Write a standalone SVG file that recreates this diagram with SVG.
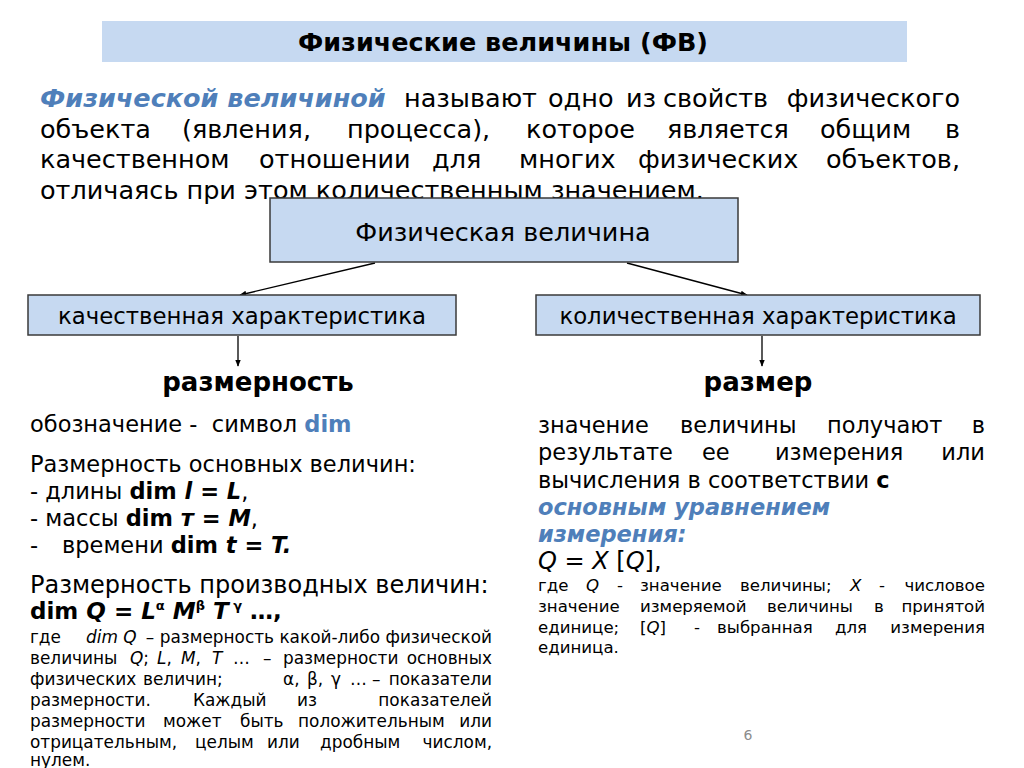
<svg xmlns="http://www.w3.org/2000/svg" width="1024" height="768" viewBox="0 0 1024 768">
<defs>
<style>
text{font-family:"DejaVu Sans","Noto Sans",sans-serif;fill:#000}
.t{font-size:25.5px;font-weight:bold}
.p{font-size:25.5px}
.lb{font-size:25.5px}
.sb{font-size:22.8px}
.hd{font-size:26px;font-weight:bold}
.m{font-size:22.5px}
.s{font-size:16.9px}
.rs{font-size:16.6px}
.b{font-weight:bold}
.i{font-style:italic}
.bl{fill:#4f7fba;font-weight:bold}
.box{fill:#c6d9f1;stroke:#3a3a3a;stroke-width:1.5}
.ln{stroke:#000;stroke-width:1.3;fill:none;marker-end:url(#ah)}
</style>
<marker id="ah" viewBox="0 0 10 10" refX="9" refY="5" markerWidth="7" markerHeight="7" markerUnits="userSpaceOnUse" orient="auto">
<path d="M0,1 L10,5 L0,9 z" fill="#000"/>
</marker>
</defs>
<rect width="1024" height="768" fill="#fff"/>

<g id="title">
<rect x="102" y="21" width="805" height="41" fill="#c6d9f1"/>
<text class="t" x="503" y="51" text-anchor="middle">Физические величины (ФВ)</text>
</g>

<g id="definition">
<text class="p" y="107"><tspan x="40" class="bl i">Физической величиной</tspan><tspan x="404">называют</tspan><tspan x="548">одно</tspan><tspan x="626">из</tspan><tspan x="663">свойств</tspan></text>
<text class="p" x="960" y="107" text-anchor="end">физического</text>
<text class="p" y="138"><tspan x="40">объекта</tspan><tspan x="182">(явления,</tspan><tspan x="347">процесса),</tspan><tspan x="526">которое</tspan><tspan x="667">является</tspan><tspan x="820">общим</tspan></text>
<text class="p" x="960" y="138" text-anchor="end">в</text>
<text class="p" y="168"><tspan x="40">качественном</tspan><tspan x="259">отношении</tspan><tspan x="432">для</tspan><tspan x="519">многих</tspan><tspan x="638">физических</tspan></text>
<text class="p" x="960" y="168" text-anchor="end">объектов,</text>
<text class="p" x="40" y="199">отличаясь при этом количественным значением.</text>
</g>

<g id="connectors">
<line class="ln" x1="375" y1="263" x2="240" y2="295"/>
<line class="ln" x1="627" y1="263" x2="747" y2="295"/>
<line class="ln" x1="238" y1="336" x2="238" y2="366"/>
<line class="ln" x1="762" y1="336" x2="762" y2="366"/>
</g>

<g id="node-fv">
<rect class="box" x="270" y="198" width="468" height="64"/>
<text class="lb" x="503" y="241" text-anchor="middle">Физическая величина</text>
</g>

<g id="node-qual">
<rect class="box" x="28" y="295" width="428" height="40"/>
<text class="sb" x="242" y="324" text-anchor="middle">качественная характеристика</text>
</g>

<g id="node-quant">
<rect class="box" x="536" y="295" width="444" height="40"/>
<text class="sb" x="758" y="324" text-anchor="middle">количественная характеристика</text>
</g>

<g id="node-razmernost">
<text class="hd" x="258" y="391" text-anchor="middle">размерность</text>
</g>

<g id="node-razmer">
<text class="hd" x="758" y="391" text-anchor="middle">размер</text>
</g>

<g id="left-text">
<text class="m" x="30" y="432" xml:space="preserve">обозначение -  символ <tspan class="bl">dim</tspan></text>
<text class="m" x="30" y="472">Размерность основных величин:</text>
<text class="m" x="30" y="499" font-size="22">- длины <tspan class="b">dim <tspan class="i">l</tspan> = <tspan class="i">L</tspan></tspan>,</text>
<text class="m" x="30" y="526" font-size="22">- массы <tspan class="b">dim <tspan class="i">т</tspan> = <tspan class="i">M</tspan></tspan>,</text>
<text class="m" x="30" y="553">-</text>
<text class="m" x="62" y="553" font-size="22">времени <tspan class="b">dim <tspan class="i">t</tspan> = <tspan class="i">T.</tspan></tspan></text>
<text x="30" y="593" font-size="24">Размерность производных величин:</text>
<text class="b" x="30" y="619" font-size="23">dim <tspan class="i">Q</tspan> = <tspan class="i">L</tspan><tspan font-size="13" dy="-9">α</tspan><tspan class="i" dy="9"> M</tspan><tspan font-size="13" dy="-9">β</tspan><tspan class="i" dy="9"> T</tspan><tspan font-size="13" dy="-9"> γ</tspan><tspan dy="9"> …,</tspan></text>

<text class="s" x="30" y="643">где</text>
<text class="s i" x="86" y="643">dim Q</text>
<text class="s" x="492" y="643" text-anchor="end">– размерность какой-либо физической</text>

<text class="s" y="664"><tspan x="30">величины</tspan><tspan x="130" class="i">Q</tspan><tspan>;</tspan><tspan x="157" class="i">L</tspan><tspan>,</tspan><tspan x="181" class="i">M</tspan><tspan>,</tspan><tspan x="212" class="i">T</tspan><tspan x="233">…</tspan><tspan x="263">–</tspan></text>
<text class="s" x="283" y="664">размерности</text>
<text class="s" x="492" y="664" text-anchor="end">основных</text>

<text class="s" y="685"><tspan x="30">физических</tspan><tspan x="143">величин;</tspan><tspan x="283">α,</tspan><tspan x="307">β,</tspan><tspan x="331">γ</tspan><tspan x="350">…</tspan><tspan x="372">–</tspan></text>
<text class="s" x="492" y="685" text-anchor="end">показатели</text>

<text class="s" y="706"><tspan x="30">размерности.</tspan><tspan x="193">Каждый</tspan><tspan x="297">из</tspan></text>
<text class="s" x="492" y="706" text-anchor="end">показателей</text>

<text class="s" y="727"><tspan x="30">размерности</tspan><tspan x="163">может</tspan><tspan x="240">быть</tspan><tspan x="298">положительным</tspan></text>
<text class="s" x="492" y="727" text-anchor="end">или</text>

<text class="s" y="748"><tspan x="30">отрицательным,</tspan><tspan x="195">целым</tspan><tspan x="267">или</tspan><tspan x="320">дробным</tspan></text>
<text class="s" x="492" y="748" text-anchor="end">числом,</text>

<text class="s" x="30" y="766">нулем.</text>
</g>

<g id="right-text">
<text class="m" y="433"><tspan x="538">значение</tspan><tspan x="680">величины</tspan><tspan x="827">получают</tspan></text>
<text class="m" x="985" y="433" text-anchor="end">в</text>
<text class="m" y="460"><tspan x="538">результате</tspan><tspan x="702">ее</tspan><tspan x="775">измерения</tspan></text>
<text class="m" x="985" y="460" text-anchor="end">или</text>
<text class="m" x="538" y="488">вычисления в соответствии <tspan class="b">с</tspan></text>
<text class="m bl i" x="538" y="515">основным уравнением</text>
<text class="m bl i" x="538" y="542">измерения:</text>
<text x="538" y="569" font-size="24"><tspan class="i">Q</tspan> = <tspan class="i">X</tspan> [<tspan class="i">Q</tspan>],</text>

<text class="rs" y="591"><tspan x="538">где</tspan><tspan x="586" class="i">Q</tspan><tspan x="617">-</tspan><tspan x="640">значение</tspan><tspan x="740">величины;</tspan><tspan x="850" class="i">X</tspan><tspan x="879">-</tspan></text>
<text class="rs" x="985" y="591" text-anchor="end">числовое</text>
<text class="rs" y="612"><tspan x="538">значение</tspan><tspan x="640">измеряемой</tspan><tspan x="767">величины</tspan><tspan x="874">в</tspan></text>
<text class="rs" x="985" y="612" text-anchor="end">принятой</text>
<text class="rs" y="633"><tspan x="538">единице;</tspan><tspan x="640">[</tspan><tspan class="i">Q</tspan><tspan>]</tspan><tspan x="694">-</tspan><tspan x="717">выбранная</tspan><tspan x="835">для</tspan></text>
<text class="rs" x="985" y="633" text-anchor="end">измерения</text>
<text class="rs" x="538" y="653">единица.</text>
</g>

<g id="page-number">
<text x="748" y="740" font-size="14" style="fill:#8c8c8c" text-anchor="middle">6</text>
</g>
</svg>
